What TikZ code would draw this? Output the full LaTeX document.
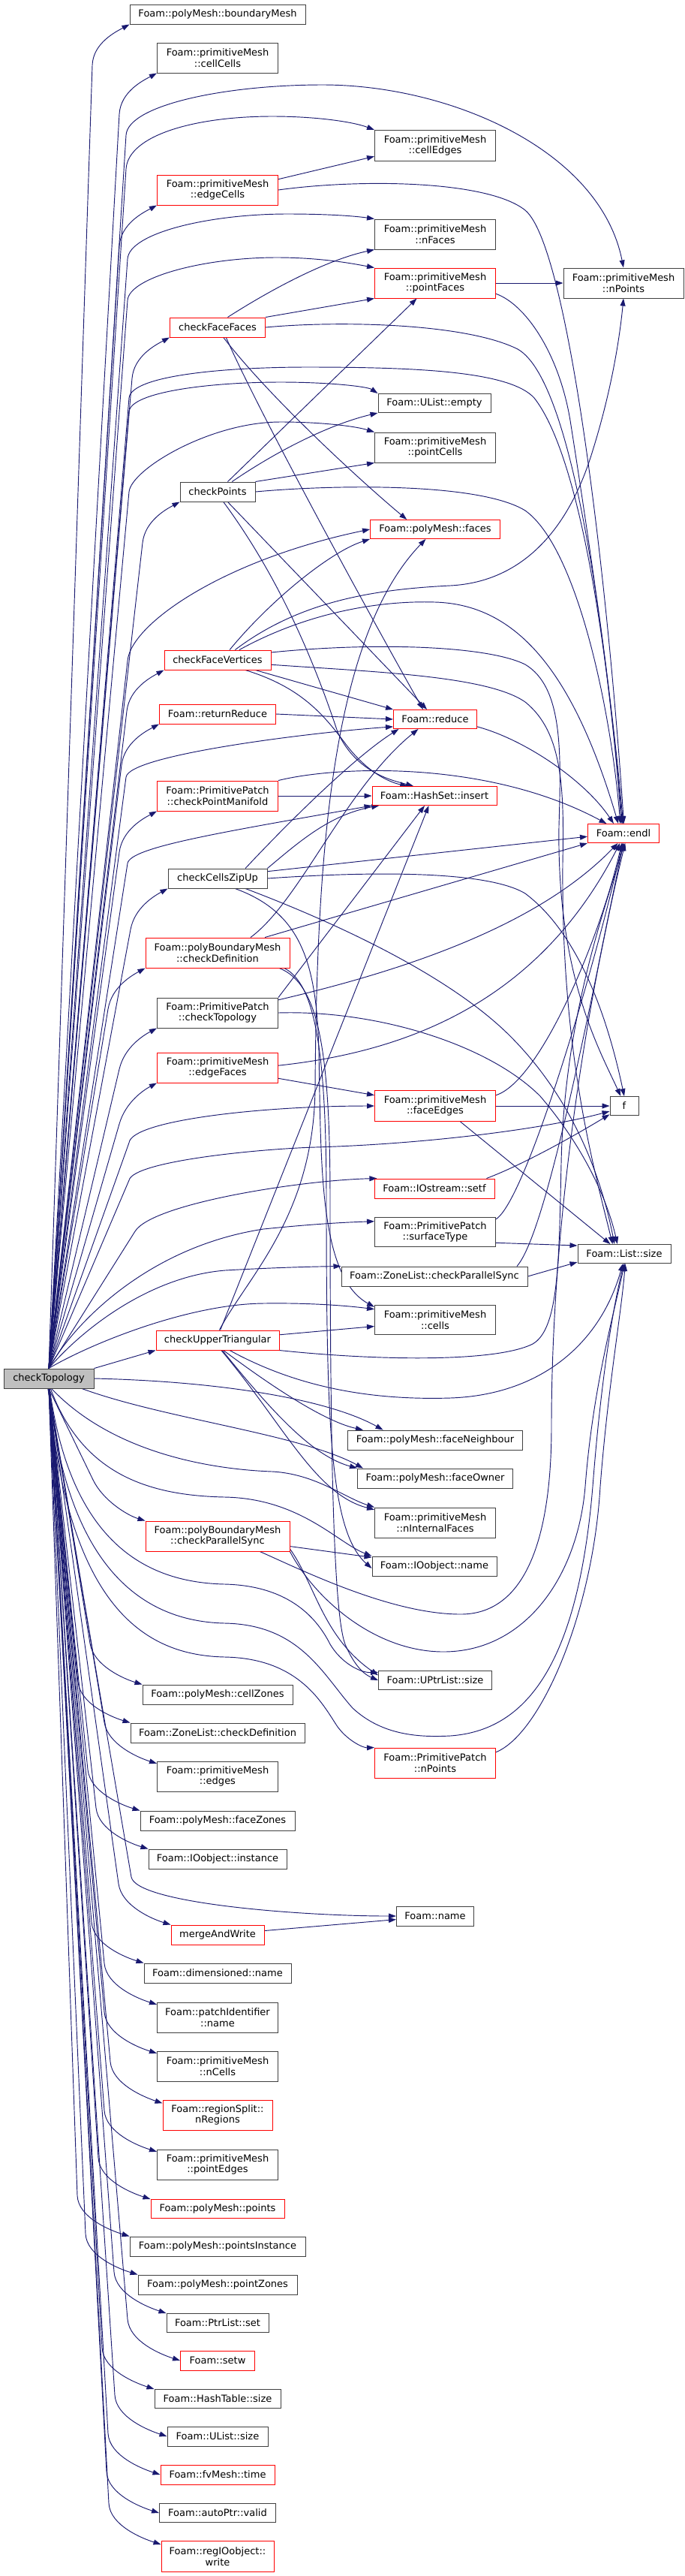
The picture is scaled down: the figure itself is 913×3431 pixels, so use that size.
\documentclass[tikz,border=0pt]{standalone}
\usepackage{fontspec}
\newfontfamily\dvs{DejaVu Sans}
\usetikzlibrary{arrows.meta,backgrounds}
\definecolor{edgecol}{HTML}{191970}
\definecolor{bordcol}{HTML}{404040}
\definecolor{rootfill}{HTML}{BFBFBF}
\tikzset{
  nb/.style={draw=bordcol,fill=white,line width=0.75pt,inner sep=0pt,align=center,
    font=\dvs\fontsize{9.75pt}{10.9pt}\selectfont},
  nr/.style={nb,draw=red},
  nroot/.style={nb,fill=rootfill,draw=bordcol},
  e/.style={draw=edgecol,line width=0.7pt,-{Triangle[length=7.5pt,width=5.2pt]}},
}
\newcommand{\nd}[7]{\node[#1,minimum width={#5*0.75pt},minimum height={#6*0.75pt}] (#2) at (#3,#4) {#7};}
% T to upper column-B nodes
\newcommand{\TU}[3]{%
  \pgfmathsetmacro\tkWx{#2-50}\pgfmathsetmacro\tkWy{#3+55}%
  \pgfmathsetmacro\tkDx{(\tkWx-65)/100}\pgfmathsetmacro\tkDy{(\tkWy-1823)/100}%
  \pgfmathsetmacro\tkL{sqrt(\tkDx*\tkDx+\tkDy*\tkDy)}%
  \pgfmathsetmacro\tkAx{\tkWx+30*\tkDx/\tkL}\pgfmathsetmacro\tkAy{\tkWy+30*\tkDy/\tkL}%
  \pgfmathsetmacro\tkBx{#2-18}\pgfmathsetmacro\tkBy{#3+10}%
  \draw[e] (T.north) -- (\tkWx,\tkWy) .. controls (\tkAx,\tkAy) and (\tkBx,\tkBy) .. (#1);}
% T to lower column-B nodes
\newcommand{\TL}[3]{%
  \pgfmathsetmacro\tkWx{#2-70}\pgfmathsetmacro\tkWy{#3-55}%
  \pgfmathsetmacro\tkDx{(\tkWx-65)/100}\pgfmathsetmacro\tkDy{(\tkWy-1849)/100}%
  \pgfmathsetmacro\tkL{sqrt(\tkDx*\tkDx+\tkDy*\tkDy)}%
  \pgfmathsetmacro\tkAx{\tkWx+30*\tkDx/\tkL}\pgfmathsetmacro\tkAy{\tkWy+30*\tkDy/\tkL}%
  \pgfmathsetmacro\tkBx{#2-25}\pgfmathsetmacro\tkBy{#3-8}%
  \draw[e] (T.south) -- (\tkWx,\tkWy) .. controls (\tkAx,\tkAy) and (\tkBx,\tkBy) .. (#1);}
\begin{document}
\begin{tikzpicture}[x=0.75pt,y=-0.75pt]
\useasboundingbox (0,0) rectangle (913,3431);
% ---------------- nodes ----------------
\nd{nroot}{T}{65}{1836}{120}{26}{checkTopology}
% column B
\nd{nb}{bMesh}{290}{19}{234}{26}{Foam::polyMesh::boundaryMesh}
\nd{nb}{cellCells}{290}{77}{161}{40}{Foam::primitiveMesh\\::cellCells}
\nd{nr}{edgeCells}{290}{253}{161}{40}{Foam::primitiveMesh\\::edgeCells}
\nd{nr}{cFF}{290}{436}{127}{26}{checkFaceFaces}
\nd{nb}{cP}{290}{655}{100}{26}{checkPoints}
\nd{nr}{cFV}{290}{879}{142}{26}{checkFaceVertices}
\nd{nr}{rR}{290}{951}{155}{26}{Foam::returnReduce}
\nd{nr}{cPM}{290}{1060}{161}{40}{Foam::PrimitivePatch\\::checkPointManifold}
\nd{nb}{cCZU}{290}{1170}{132}{26}{checkCellsZipUp}
\nd{nr}{cDef}{290}{1269}{192}{40}{Foam::polyBoundaryMesh\\::checkDefinition}
\nd{nb}{ppCT}{290}{1349}{161}{40}{Foam::PrimitivePatch\\::checkTopology}
\nd{nr}{eF}{290}{1422}{161}{40}{Foam::primitiveMesh\\::edgeFaces}
\nd{nr}{cUT}{290}{1785}{164}{26}{checkUpperTriangular}
\nd{nr}{pCPS}{290}{2046}{192}{40}{Foam::polyBoundaryMesh\\::checkParallelSync}
\nd{nb}{cZ}{290}{2257}{200}{26}{Foam::polyMesh::cellZones}
\nd{nb}{zCD}{290}{2308}{232}{26}{Foam::ZoneList::checkDefinition}
\nd{nb}{edgs}{290}{2366}{161}{40}{Foam::primitiveMesh\\::edges}
\nd{nb}{fZ}{290}{2425}{206}{26}{Foam::polyMesh::faceZones}
\nd{nb}{inst}{290}{2476}{184}{26}{Foam::IOobject::instance}
\nd{nr}{mAW}{290}{2577}{124}{26}{mergeAndWrite}
\nd{nb}{dN}{290}{2628}{196}{26}{Foam::dimensioned::name}
\nd{nb}{pIN}{290}{2687}{161}{40}{Foam::patchIdentifier\\::name}
\nd{nb}{nC}{290}{2752}{161}{40}{Foam::primitiveMesh\\::nCells}
\nd{nr}{nR}{290}{2817}{146}{40}{Foam::regionSplit::\\nRegions}
\nd{nb}{pE}{290}{2883}{161}{40}{Foam::primitiveMesh\\::pointEdges}
\nd{nr}{pts}{290}{2942}{178}{25}{Foam::polyMesh::points}
\nd{nb}{pI}{290}{2992}{234}{26}{Foam::polyMesh::pointsInstance}
\nd{nb}{pZ}{290}{3043}{212}{26}{Foam::polyMesh::pointZones}
\nd{nb}{pLS}{290}{3094}{136}{25}{Foam::PtrList::set}
\nd{nr}{stw}{290}{3144}{99}{26}{Foam::setw}
\nd{nb}{hTS}{290}{3195}{168}{25}{Foam::HashTable::size}
\nd{nb}{uLS}{290}{3245}{134}{26}{Foam::UList::size}
\nd{nr}{tme}{290}{3296}{152}{26}{Foam::fvMesh::time}
\nd{nb}{vld}{290}{3347}{155}{25}{Foam::autoPtr::valid}
\nd{nr}{wrt}{290}{3405}{150}{41}{Foam::regIOobject::\\write}
% column C
\nd{nb}{cE}{580}{194}{161}{41}{Foam::primitiveMesh\\::cellEdges}
\nd{nb}{nF}{580}{312}{161}{40}{Foam::primitiveMesh\\::nFaces}
\nd{nr}{pF}{580}{377}{161}{40}{Foam::primitiveMesh\\::pointFaces}
\nd{nb}{emp}{579}{537}{150}{25}{Foam::UList::empty}
\nd{nb}{pC}{580}{596}{161}{40}{Foam::primitiveMesh\\::pointCells}
\nd{nr}{faces}{580}{705}{173}{25}{Foam::polyMesh::faces}
\nd{nr}{rdc}{580}{958}{111}{25}{Foam::reduce}
\nd{nr}{ins}{579}{1060}{166}{25}{Foam::HashSet::insert}
\nd{nr}{fE}{580}{1473}{161}{41}{Foam::primitiveMesh\\::faceEdges}
\nd{nr}{stf}{579}{1583}{160}{26}{Foam::IOstream::setf}
\nd{nb}{sT}{580}{1641}{161}{39}{Foam::PrimitivePatch\\::surfaceType}
\nd{nb}{zCPS}{579}{1700}{248}{26}{Foam::ZoneList::checkParallelSync}
\nd{nb}{cls}{580}{1758}{161}{39}{Foam::primitiveMesh\\::cells}
\nd{nb}{fN}{580}{1918}{233}{26}{Foam::polyMesh::faceNeighbour}
\nd{nb}{fO}{580}{1969}{207}{26}{Foam::polyMesh::faceOwner}
\nd{nb}{nIF}{580}{2028}{161}{40}{Foam::primitiveMesh\\::nInternalFaces}
\nd{nb}{ioN}{579}{2086}{166}{26}{Foam::IOobject::name}
\nd{nb}{uPS}{580}{2238}{151}{25}{Foam::UPtrList::size}
\nd{nr}{ppNP}{580}{2348}{161}{40}{Foam::PrimitivePatch\\::nPoints}
\nd{nb}{fname}{580}{2552}{103}{26}{Foam::name}
% column D
\nd{nb}{nP}{831}{377}{160}{40}{Foam::primitiveMesh\\::nPoints}
\nd{nr}{endl}{831}{1110}{95}{25}{Foam::endl}
\nd{nb}{ff}{832}{1473}{38}{25}{f}
\nd{nb}{lS}{832}{1670}{124}{25}{Foam::List::size}
% ---------------- edges ----------------
\begin{pgfonlayer}{background}
\fill[white] (0,0) rectangle (913,3431);
% checkTopology -> upper column B
\TU{bMesh.south west}{173}{32}
\TU{cellCells.south west}{209}{97}
\TU{edgeCells.south west}{209}{273}
\TU{cFF.south west}{226}{449}
\TU{cP.south west}{240}{668}
\TU{cFV.south west}{219}{892}
\TU{rR.south west}{212}{964}
\TU{cPM.south west}{209}{1080}
\TU{cCZU.south west}{224}{1183}
\TU{cDef.south west}{194}{1289}
\TU{ppCT.south west}{209}{1369}
\TU{eF.south west}{209}{1442}
\draw[e] (T.north east) -- (cUT.south west);
% checkTopology -> lower column B
\TL{pCPS.north west}{194}{2026}
\TL{cZ.north west}{190}{2244}
\TL{zCD.north west}{174}{2295}
\TL{edgs.168}{209}{2349}
\TL{fZ.north west}{187}{2412}
\TL{inst.north west}{198}{2463}
\TL{mAW.north west}{228}{2564}
\TL{dN.north west}{192}{2615}
\TL{pIN.168}{209}{2670}
\TL{nC.168}{209}{2735}
\TL{nR.168}{217}{2801}
\TL{pE.168}{209}{2866}
\TL{pts.north west}{201}{2929}
\TL{pI.north west}{173}{2979}
\TL{pZ.north west}{184}{3030}
\TL{pLS.north west}{222}{3081}
\TL{stw.west}{240}{3144}
\TL{hTS.north west}{206}{3182}
\TL{uLS.west}{223}{3245}
\TL{tme.west}{214}{3296}
\TL{vld.west}{212}{3347}
\TL{wrt.168}{215}{3389}
% checkTopology -> columns C and D
\draw[e] (T.north) -- (168,180) .. controls (170.5,140) and (300,113) .. (430,113) .. controls (600,113) and (800,200) .. (nP.north);
\draw[e] (T.north) -- (168,225) .. controls (171,180) and (260,155) .. (363,155) .. controls (420,155) and (470,162) .. (cE.north west);
\draw[e] (T.north) -- (170,345) .. controls (172,310) and (280,285) .. (383,285) .. controls (440,285) and (475,288) .. (nF.north west);
\draw[e] (T.north) -- (170,400) .. controls (172,370) and (270,343) .. (369,343) .. controls (430,343) and (475,352) .. (pF.north west);
\draw[e] (T.north) -- (172,530) .. controls (175,500) and (300,489) .. (410,489) .. controls (560,489) and (680,495) .. (712,530) .. controls (775,610) and (812,880) .. (endl.102);
\draw[e] (T.north) -- (172,548) .. controls (175,522) and (280,509) .. (374,509) .. controls (440,509) and (490,515) .. (emp.north west);
\draw[e] (T.north) -- (172,655) .. controls (175,625) and (280,562) .. (374,562) .. controls (430,562) and (475,568) .. (pC.north west);
\draw[e] (T.north) -- (170,880) .. controls (175,830) and (300,745) .. (faces.west);
\draw[e] (T.north) -- (168,1035) .. controls (172,1005) and (420,975) .. (rdc.190);
\draw[e] (T.north) -- (170,1150) .. controls (173,1128) and (300,1108) .. (ins.south west);
\draw[e] (T.north) -- (172,1522) .. controls (176,1492) and (350,1473) .. (fE.west);
\draw[e] (T.north) -- (172,1572) .. controls (178,1546) and (350,1530) .. (420,1528) .. controls (560,1524) and (720,1505) .. (ff.200);
\draw[e] (T.north) -- (180,1640) .. controls (203,1603) and (400,1572) .. (stf.170);
\draw[e] (T.north) .. controls (100,1760) and (200,1660) .. (351,1637) .. controls (420,1630) and (460,1628) .. (sT.170);
\draw[e] (T.north) .. controls (110,1770) and (200,1700) .. (300,1692) .. controls (370,1688) and (420,1687) .. (zCPS.north west);
\draw[e] (T.north) .. controls (120,1790) and (250,1737) .. (351,1736) .. controls (420,1735) and (470,1740) .. (cls.170);
\draw[e] (T.east) .. controls (300,1840) and (440,1865) .. (fN.169);
\draw[e] (T.-17) .. controls (220,1890) and (400,1910) .. (fO.172);
\draw[e] (T.-75) .. controls (150,1935) and (280,1957) .. (363,1960) .. controls (420,1963) and (460,1995) .. (nIF.north west);
\draw[e] (T.-80) .. controls (110,1965) and (200,1992) .. (300,1994) .. controls (400,1996) and (450,2055) .. (ioN.north west);
\draw[e] (T.-85) .. controls (95,2060) and (200,2108) .. (300,2110) .. controls (380,2112) and (420,2150) .. (440,2190) .. controls (455,2215) and (480,2228) .. (uPS.172);
\draw[e] (T.-88) .. controls (90,2100) and (200,2160) .. (300,2162) .. controls (400,2164) and (430,2230) .. (470,2275) .. controls (510,2312) and (560,2314) .. (600,2312) .. controls (700,2305) and (770,2220) .. (790,1980) .. controls (800,1850) and (815,1750) .. (lS.-92);
\draw[e] (T.south) .. controls (90,2150) and (200,2205) .. (300,2207) .. controls (400,2209) and (430,2270) .. (450,2300) .. controls (465,2320) and (485,2328) .. (ppNP.north west);
\draw[e] (T.-95) -- (175,2500) .. controls (182,2535) and (400,2552) .. (fname.west);
% second level
\draw[e] (edgeCells.10) -- (cE.190);
\draw[e] (edgeCells.east) .. controls (480,238) and (650,240) .. (700,280) .. controls (760,330) and (812,800) .. (endl.88);
\draw[e] (pF.east) -- (nP.west);
\draw[e] (pF.-10) .. controls (700,405) and (745,470) .. (760,560) .. controls (790,750) and (818,950) .. (endl.92);
\draw[e] (cFF.45) .. controls (370,380) and (440,345) .. (nF.south west);
\draw[e] (cFF.north east) -- (pF.south west);
\draw[e] (cFF.east) .. controls (450,427) and (620,430) .. (690,465) .. controls (770,510) and (812,900) .. (endl.97);
\draw[e] (cFF.-60) .. controls (360,530) and (480,640) .. (faces.161);
\draw[e] (cFF.-50) .. controls (350,560) and (510,850) .. (rdc.141);
\draw[e] (cP.45) -- (pF.220);
\draw[e] (cP.35) .. controls (370,600) and (440,565) .. (emp.south west);
\draw[e] (cP.north east) -- (pC.south west);
\draw[e] (cP.east) .. controls (450,645) and (640,643) .. (700,680) .. controls (770,730) and (815,950) .. (endl.108);
\draw[e] (cP.-45) -- (rdc.130);
\draw[e] (cP.-60) .. controls (380,780) and (425,900) .. (450,975) .. controls (475,1030) and (525,1040) .. (ins.155);
\draw[e] (cFV.40) .. controls (360,800) and (440,735) .. (faces.south west);
\draw[e] (cFV.30) .. controls (400,800) and (500,785) .. (600,780) .. controls (700,775) and (760,700) .. (790,600) .. controls (815,520) and (826,450) .. (nP.south);
\draw[e] (cFV.25) .. controls (420,810) and (520,800) .. (580,802) .. controls (680,805) and (760,880) .. (endl.118);
\draw[e] (cFV.-15) -- (rdc.north west);
\draw[e] (cFV.-20) .. controls (400,915) and (430,950) .. (460,990) .. controls (490,1030) and (520,1042) .. (ins.160);
\draw[e] (cFV.8) .. controls (500,855) and (650,860) .. (700,885) .. controls (750,915) and (748,1000) .. (745,1100) .. controls (742,1300) and (800,1400) .. (ff.110);
\draw[e] (cFV.-5) .. controls (500,895) and (650,900) .. (700,935) .. controls (750,975) and (752,1050) .. (750,1150) .. controls (748,1400) and (790,1550) .. (lS.140);
\draw[e] (rR.east) -- (rdc.west);
\draw[e] (rdc.-10) .. controls (700,985) and (780,1040) .. (endl.135);
\draw[e] (cPM.east) -- (ins.west);
\draw[e] (cPM.north east) .. controls (450,1020) and (650,1012) .. (endl.150);
\draw[e] (cCZU.20) .. controls (380,1100) and (470,1010) .. (rdc.-165);
\draw[e] (cCZU.north east) .. controls (400,1120) and (440,1085) .. (ins.-170);
\draw[e] (cCZU.8) -- (endl.-175);
\draw[e] (cCZU.east) .. controls (500,1160) and (650,1160) .. (700,1190) .. controls (780,1250) and (815,1380) .. (ff.north);
\draw[e] (cCZU.-20) .. controls (450,1230) and (600,1300) .. (680,1380) .. controls (760,1460) and (800,1560) .. (lS.135);
\draw[e] (cCZU.-30) .. controls (400,1215) and (422,1280) .. (425,1400) .. controls (428,1550) and (425,1700) .. (cls.168);
\draw[e] (cDef.25) .. controls (400,1200) and (460,1050) .. (rdc.-150);
\draw[e] (cDef.18) -- (endl.south west);
\draw[e] (cDef.-13) .. controls (420,1310) and (435,1400) .. (435,1600) .. controls (435,1900) and (440,2040) .. (ioN.-178);
\draw[e] (cDef.-14) .. controls (425,1310) and (440,1400) .. (440,1600) .. controls (440,1950) and (445,2150) .. (460,2190) .. controls (475,2225) and (490,2232) .. (uPS.west);
\draw[e] (ppCT.north east) -- (ins.-135);
\draw[e] (ppCT.12) .. controls (550,1290) and (720,1230) .. (endl.-120);
\draw[e] (ppCT.east) .. controls (500,1345) and (650,1390) .. (720,1460) .. controls (780,1530) and (810,1600) .. (lS.125);
\draw[e] (eF.2) .. controls (550,1400) and (720,1330) .. (endl.-110);
\draw[e] (eF.-10) -- (fE.170);
\draw[e] (fE.10) .. controls (720,1440) and (800,1250) .. (endl.-100);
\draw[e] (fE.east) -- (ff.west);
\draw[e] (fE.-32) -- (lS.145);
\draw[e] (stf.11) .. controls (700,1550) and (770,1510) .. (ff.-150);
\draw[e] (sT.12) .. controls (700,1600) and (790,1300) .. (endl.-95);
\draw[e] (sT.-10) -- (lS.170);
\draw[e] (zCPS.7) .. controls (730,1640) and (790,1320) .. (endl.-90);
\draw[e] (zCPS.east) -- (lS.-170);
\draw[e] (cUT.80) .. controls (330,1700) and (418,1620) .. (420,1450) .. controls (422,1150) and (440,850) .. (faces.-134);
\draw[e] (cUT.75) -- (ins.-120);
\draw[e] (cUT.5) -- (cls.-174);
\draw[e] (cUT.south east) .. controls (500,1812) and (660,1815) .. (710,1790) .. controls (745,1770) and (745,1680) .. (748,1550) .. controls (752,1350) and (810,1200) .. (endl.-85);
\draw[e] (cUT.-40) .. controls (400,1850) and (500,1865) .. (600,1862) .. controls (720,1858) and (800,1790) .. (lS.-98);
\draw[e] (cUT.-60) .. controls (380,1860) and (440,1895) .. (fN.172);
\draw[e] (cUT.-65) .. controls (370,1890) and (420,1940) .. (fO.north west);
\draw[e] (cUT.-70) .. controls (380,1900) and (420,1990) .. (nIF.168);
\draw[e] (pCPS.-8) -- (ioN.172);
\draw[e] (pCPS.-20) .. controls (400,2090) and (520,2150) .. (614,2150) .. controls (700,2150) and (735,2050) .. (735,1900) .. controls (735,1600) and (790,1300) .. (endl.-80);
\draw[e] (pCPS.-12) .. controls (420,2130) and (500,2200) .. (591,2200) .. controls (700,2200) and (770,2100) .. (780,1980) .. controls (790,1850) and (818,1750) .. (lS.-88);
\draw[e] (pCPS.-10) .. controls (420,2110) and (430,2180) .. (uPS.175);
\draw[e] (ppNP.10) .. controls (720,2310) and (790,2150) .. (800,1980) .. controls (810,1850) and (828,1750) .. (lS.-84);
\draw[e] (mAW.5) -- (fname.-175);
\end{pgfonlayer}
\end{tikzpicture}
\end{document}
